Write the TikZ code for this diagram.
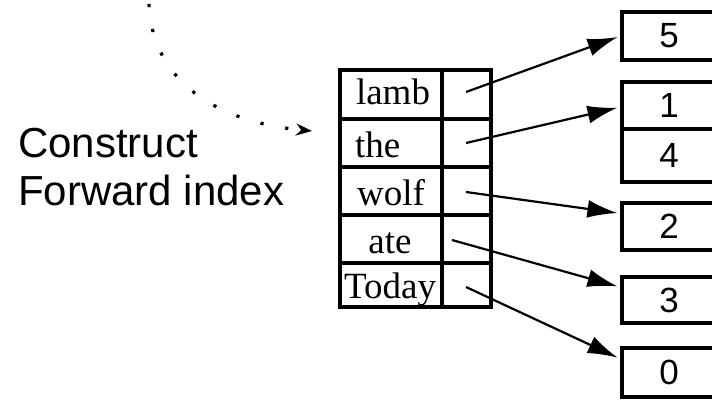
\documentclass[tikz,border=0pt]{standalone}
\usepackage{fontspec}
\setmainfont{Liberation Serif}
\setsansfont{Liberation Sans}
\usetikzlibrary{arrows.meta,calc}
\tikzset{
    grid line/.style={line width=3.2pt},
    numbox/.style={draw, line width=3.2pt, inner sep=0pt, minimum width=94pt, font=\sffamily\fontsize{35}{35}\selectfont},
    word/.style={anchor=base, inner sep=0pt, font=\fontsize{37}{37}\selectfont},
    caption/.style={anchor=base west, inner sep=0pt, font=\sffamily\fontsize{42}{42}\selectfont},
    ptr/.style={line width=2.2pt, -{Latex[length=30pt,width=18pt]}, shorten >=3pt}}

\begin{document}
\begin{tikzpicture}[x=1pt,y=-1pt]
\useasboundingbox (0,0) rectangle (712,399);
% caption and dotted pointer
\node[caption] (cap1) at (18,157) {Construct};
\node[caption] (cap2) at (18,205) {Forward index};
\coordinate (dotstart) at (149,4);
\coordinate (dotend) at (312,131);
\draw[line width=3.2pt, dash pattern=on 3.2pt off 22pt, -{Stealth[length=16pt,width=12pt]}] (dotstart) .. controls (152,80) and (215,122) .. (dotend);
% the table
\coordinate (T1) at (340,70);
\coordinate (T2) at (491,307);
\draw[grid line] (T1) rectangle (T2);
\draw[grid line] (442,70) -- (442,307);
\foreach \y in {119,167,215,263}
    \draw[grid line] (340,\y) -- (491,\y);
\node[word] (lamb) at (393,104) {lamb};
\node[word,anchor=base west] (the) at (355,157) {the};
\node[word] (wolf) at (391,205) {wolf};
\node[word] (ate) at (390,253) {ate};
\node[word] (today) at (390,298) {Today};
% position lists
\node[numbox, minimum height=48pt] (n5) at (669,36) {5};
\node[numbox, minimum height=47pt] (n1) at (669,105.5) {1};
\node[numbox, minimum height=53pt] (n4) at (669,155.5) {4};
\node[numbox, minimum height=47pt] (n2) at (669,226.5) {2};
\node[numbox, minimum height=46pt] (n3) at (669,300) {3};
\node[numbox, minimum height=49pt] (n0) at (669,372.5) {0};
% pointers
\coordinate (p1) at (466,92);
\coordinate (p2) at (466,143);
\coordinate (p3) at (466,192);
\coordinate (p4) at (452,240);
\coordinate (p5) at (466,287);
\draw[ptr] (p1) -- (n5.west);
\draw[ptr] (p2) -- ($(n1.north west)!0.53!(n1.south west)$);
\draw[ptr] (p3) -- ($(n2.north west)!0.24!(n2.south west)$);
\draw[ptr] (p4) -- ($(n3.north west)!0.24!(n3.south west)$);
\draw[ptr] (p5) -- ($(n0.north west)!0.24!(n0.south west)$);
\end{tikzpicture}
\end{document}
